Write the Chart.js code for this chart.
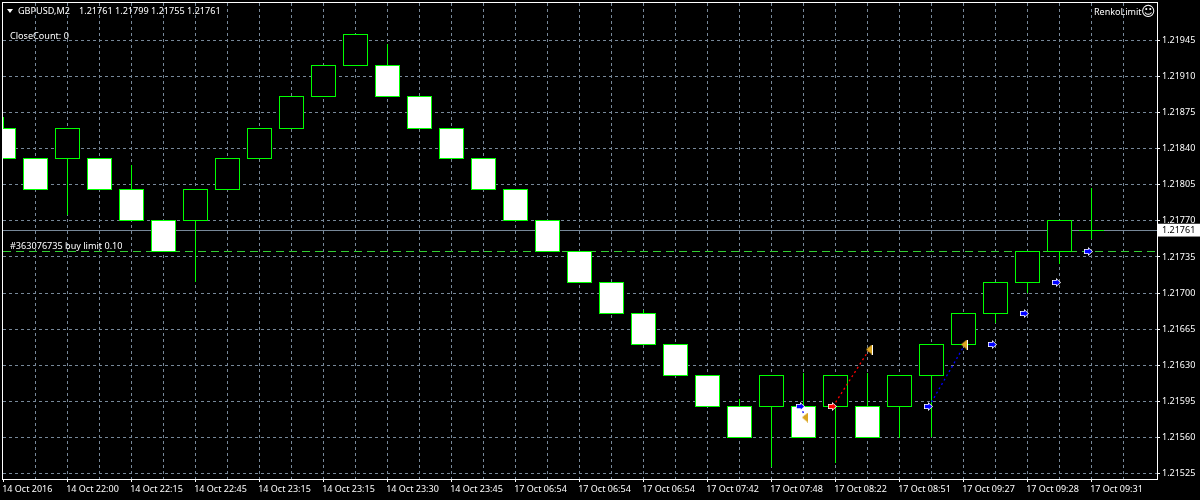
<!DOCTYPE html>
<html>
<head>
<meta charset="utf-8">
<style>
html, body { margin: 0; padding: 0; background: #000; }
canvas { display: block; }
</style>
<script src="https://cdn.jsdelivr.net/npm/chart.js@4/dist/chart.umd.min.js"></script>
</head>
<body>
<canvas id="graph" width="1200" height="500"></canvas>
<script>
// renko bricks, one entry per bar (index is the bar position)
const opens  = [1.2186,1.2183,1.2183,1.2183,1.218,1.2177,1.2177,1.218,1.2183,1.2186,1.21891,1.21921,1.21921,1.21891,1.2186,1.2183,1.218,1.2177,1.2174,1.2171,1.2168,1.2165,1.2162,1.2159,1.2159,1.2159,1.2159,1.2159,1.2159,1.2162,1.2165,1.2168,1.2171,1.2174,1.21761];
const closes = [1.2183,1.218,1.2186,1.218,1.2177,1.2174,1.218,1.2183,1.2186,1.21891,1.21921,1.21951,1.21891,1.2186,1.2183,1.218,1.2177,1.2174,1.2171,1.2168,1.2165,1.2162,1.2159,1.2156,1.2162,1.2156,1.2162,1.2156,1.2162,1.2165,1.2168,1.2171,1.2174,1.2177,1.21761];
const highs  = [1.2187,1.2183,1.2186,1.2183,1.21824,1.2177,1.218,1.2183,1.2186,1.21891,1.21921,1.21951,1.21941,1.21891,1.2186,1.2183,1.218,1.2177,1.2174,1.2171,1.21683,1.2165,1.2162,1.21597,1.2162,1.21622,1.2162,1.21622,1.2162,1.2165,1.2168,1.2171,1.2174,1.2177,1.21801];
const lows   = [1.2183,1.218,1.21776,1.218,1.2177,1.2174,1.21711,1.218,1.2183,1.2186,1.21891,1.21921,1.21891,1.2186,1.2183,1.218,1.2177,1.2174,1.2171,1.2168,1.2165,1.2162,1.2159,1.2156,1.21532,1.2156,1.21536,1.2156,1.2156,1.21561,1.2165,1.21671,1.21701,1.21729,1.21753];

const dateLabels = ["14 Oct 2016","14 Oct 22:00","14 Oct 22:15","14 Oct 22:45","14 Oct 23:15","14 Oct 23:15","14 Oct 23:30","14 Oct 23:45","17 Oct 06:54","17 Oct 06:54","17 Oct 06:54","17 Oct 07:42","17 Oct 07:48","17 Oct 08:22","17 Oct 08:51","17 Oct 09:27","17 Oct 09:28","17 Oct 09:31"];
const priceTicks = [1.21945,1.2191,1.21875,1.2184,1.21805,1.2177,1.21735,1.217,1.21665,1.2163,1.21595,1.2156,1.21525];
const bidPrice = 1.21761;
const orderPrice = 1.2174;

// trade arrows and their connecting lines
const buyArrowX = [24.93,28.93,30.9,31.9,32.9,33.9];
const buyArrowY = [1.2159,1.2159,1.2165,1.2168,1.2171,1.2174];
const sellArrowX = [25.93];
const sellArrowY = [1.2159];
const closeArrowX = [25.06,27.06,30.05];
const closeArrowY = [1.21579,1.21645,1.2165];
const blueTradeX = [24.93,25.06];
const blueTradeY = [1.2159,1.21579];
const redTradeX = [25.93,27.06];
const redTradeY = [1.2159,1.21645];
const buyTradeX = [28.93,30.05];
const buyTradeY = [1.2159,1.2165];

const headerSymbol = "GBPUSD,M2";
const headerQuotes = "1.21761 1.21799 1.21755 1.21761";
const closeCountText = "CloseCount: 0";
const orderText = "#363076735 buy limit 0.10";
const indicatorName = "RenkoLimit";
const smiley = "\u263A";

const green = "#00ff00";
const gridColor = "#778899";
const font = "'Noto Sans', sans-serif";

function pairs(xs, ys) {
    return xs.map((x, i) => ({x: x, y: ys[i]}));
}

function arrowIcon(color) {
    let c = document.createElement("canvas");
    c.width = 9;
    c.height = 9;
    let g = c.getContext("2d");
    g.fillStyle = "#fff";
    g.beginPath();
    [[0,2],[4,2],[4,0],[9,4.5],[4,9],[4,7],[0,7]].forEach(p => g.lineTo(p[0], p[1]));
    g.fill();
    g.fillStyle = color;
    g.beginPath();
    [[0.8,2.8],[4.8,2.8],[4.8,1.4],[8,4.5],[4.8,7.6],[4.8,6.2],[0.8,6.2]].forEach(p => g.lineTo(p[0], p[1]));
    g.fill();
    return c;
}

function closeIcon() {
    let c = document.createElement("canvas");
    c.width = 7;
    c.height = 10;
    let g = c.getContext("2d");
    g.fillStyle = "#daa520";
    g.beginPath();
    g.moveTo(0, 5);
    g.lineTo(6, 0);
    g.lineTo(6, 10);
    g.fill();
    g.fillStyle = "#fff";
    g.fillRect(6, 0, 1, 10);
    return c;
}

// MT4 draws on whole pixels, so pull the bars and arrows onto the pixel grid
const snapPlugin = {
    id: "snap",
    afterDatasetsUpdate(chart) {
        chart.data.datasets.forEach((ds, n) => {
            let meta = chart.getDatasetMeta(n);
            if (meta.type === "bar") {
                meta.data.forEach(el => {
                    let top = Math.floor(Math.min(el.y, el.base));
                    let bottom = Math.floor(Math.max(el.y, el.base)) + 1;
                    el.x = Math.round(el.x) + 0.5;
                    el.y = top;
                    el.base = bottom;
                });
            } else if (ds.snapPoints) {
                meta.data.forEach(el => {
                    el.x = Math.floor(el.x) + 0.5;
                    el.y = Math.floor(el.y) + 0.5;
                });
            }
        });
    }
};

const framePlugin = {
    id: "frame",
    afterDraw(chart) {
        let ctx = chart.ctx;
        let area = chart.chartArea;
        ctx.save();
        ctx.strokeStyle = "#fff";
        ctx.lineWidth = 1;
        ctx.strokeRect(area.left - 0.5, area.top - 0.5, area.right - area.left + 1, area.bottom - area.top + 1);

        ctx.fillStyle = "#fff";
        ctx.beginPath();
        ctx.moveTo(7, 9);
        ctx.lineTo(13, 9);
        ctx.lineTo(10, 13);
        ctx.fill();

        ctx.font = "9.1px " + font;
        ctx.textBaseline = "middle";
        ctx.fillStyle = "#fff";
        ctx.fillText(headerSymbol, 18, 11);
        ctx.fillText(headerQuotes, 79, 11);
        ctx.fillText(closeCountText, 10, 36);
        ctx.fillText(orderText, 10, 246);
        ctx.font = "9px " + font;
        ctx.fillText(indicatorName, 1094, 12);
        ctx.font = "14px 'DejaVu Sans'";
        ctx.fillText(smiley, 1141, 12);
        ctx.restore();
    }
};

const data = {
    datasets: [
        {
            label: "wicks",
            data: pairs(opens.map((v, i) => i), lows.map((v, i) => [v, highs[i]])),
            barThickness: 1,
            backgroundColor: green,
            borderWidth: 0,
            inflateAmount: 0,
            grouped: false,
            order: 3
        },
        {
            label: "bricks",
            data: pairs(opens.map((v, i) => i), opens.map((v, i) => [v, closes[i]])),
            barThickness: 25,
            backgroundColor: ctx => closes[ctx.dataIndex] < opens[ctx.dataIndex] ? "#fff" : "#000",
            borderColor: green,
            borderWidth: 1,
            borderSkipped: false,
            inflateAmount: 0,
            grouped: false,
            order: 2
        },
        {type: "line", label: "close trade", data: pairs(blueTradeX, blueTradeY), borderColor: "#0000ff", borderWidth: 1.3, borderDash: [2, 3], pointRadius: 0, pointHoverRadius: 0, pointBorderWidth: 0, order: 1},
        {type: "line", label: "sell trade", data: pairs(redTradeX, redTradeY), borderColor: "#ff0000", borderWidth: 1.3, borderDash: [2, 3], pointRadius: 0, pointHoverRadius: 0, pointBorderWidth: 0, order: 1},
        {type: "line", label: "buy trade", data: pairs(buyTradeX, buyTradeY), borderColor: "#0000ff", borderWidth: 1.3, borderDash: [2, 3], pointRadius: 0, pointHoverRadius: 0, pointBorderWidth: 0, order: 1},
        // small radii keep the line controller from adding overflow padding to the layout
        {type: "line", label: "close", data: pairs(closeArrowX, closeArrowY), showLine: false, pointStyle: closeIcon(), pointRadius: 0.5, pointHoverRadius: 0.5, pointBorderWidth: 0, snapPoints: true, order: 0},
        {type: "line", label: "buy", data: pairs(buyArrowX, buyArrowY), showLine: false, pointStyle: arrowIcon("#0000ff"), pointRadius: 0.5, pointHoverRadius: 0.5, pointBorderWidth: 0, snapPoints: true, order: 0},
        {type: "line", label: "sell", data: pairs(sellArrowX, sellArrowY), showLine: false, pointStyle: arrowIcon("#ff0000"), pointRadius: 0.5, pointHoverRadius: 0.5, pointBorderWidth: 0, snapPoints: true, order: 0}
    ]
};

const config = {
    type: "bar",
    data: data,
    plugins: [snapPlugin, framePlugin],
    options: {
        responsive: false,
        animation: false,
        layout: {padding: {left: 3, top: 3, right: 0, bottom: 0}},
        plugins: {legend: {display: false}, tooltip: {enabled: false}},
        scales: {
            x: {
                type: "linear",
                min: -0.00625,
                max: 36.05625,
                offset: false,
                border: {display: false, dash: [3, 3]},
                grid: {
                    offset: false,
                    lineWidth: 1,
                    tickLength: 3,
                    color: ctx => ctx.tick && ctx.tick.value === 0 ? "transparent" : gridColor,
                    tickColor: ctx => ctx.tick && ctx.tick.value % 2 === 0 ? "#fff" : "transparent"
                },
                ticks: {
                    autoSkip: false,
                    maxRotation: 0,
                    minRotation: 0,
                    align: "start",
                    padding: 2,
                    labelOffset: -1,
                    color: "#fff",
                    font: {family: font, size: 9},
                    callback: v => v % 2 === 0 && dateLabels[v / 2] ? dateLabels[v / 2] : ""
                },
                afterBuildTicks: scale => {
                    let ticks = [];
                    for (let i = 0; i < 36; i++) ticks.push({value: i});
                    scale.ticks = ticks;
                },
                afterFit: scale => {
                    scale.height = 21;
                    scale.paddingLeft = 0;
                    scale.paddingRight = 0;
                }
            },
            y: {
                position: "right",
                min: 1.21519716,
                max: 1.21981211,
                border: {
                    display: false,
                    dash: ctx => ctx.tick && ctx.tick.value === bidPrice ? [] : (ctx.tick && ctx.tick.value === orderPrice ? [8, 5] : [3, 3])
                },
                grid: {
                    lineWidth: 1,
                    tickLength: 3,
                    color: ctx => ctx.tick && ctx.tick.value === orderPrice ? "#32cd32" : gridColor,
                    tickColor: ctx => ctx.tick && (ctx.tick.value === bidPrice || ctx.tick.value === orderPrice) ? "transparent" : "#fff"
                },
                ticks: {
                    autoSkip: false,
                    padding: 2,
                    font: {family: font, size: 9},
                    color: ctx => ctx.tick && ctx.tick.value === bidPrice ? "#000" : "#fff",
                    showLabelBackdrop: ctx => !!ctx.tick && ctx.tick.value === bidPrice,
                    backdropColor: "#fff",
                    backdropPadding: {left: 5, right: 6, top: 1, bottom: 1},
                    callback: v => v === orderPrice ? "" : v.toFixed(5)
                },
                afterBuildTicks: scale => {
                    scale.ticks = priceTicks.concat([orderPrice, bidPrice]).map(v => ({value: v}));
                },
                afterFit: scale => {
                    scale.width = 43;
                    scale.paddingTop = 0;
                    scale.paddingBottom = 0;
                }
            }
        }
    }
};

new Chart(document.getElementById("graph"), config);
</script>
</body>
</html>
